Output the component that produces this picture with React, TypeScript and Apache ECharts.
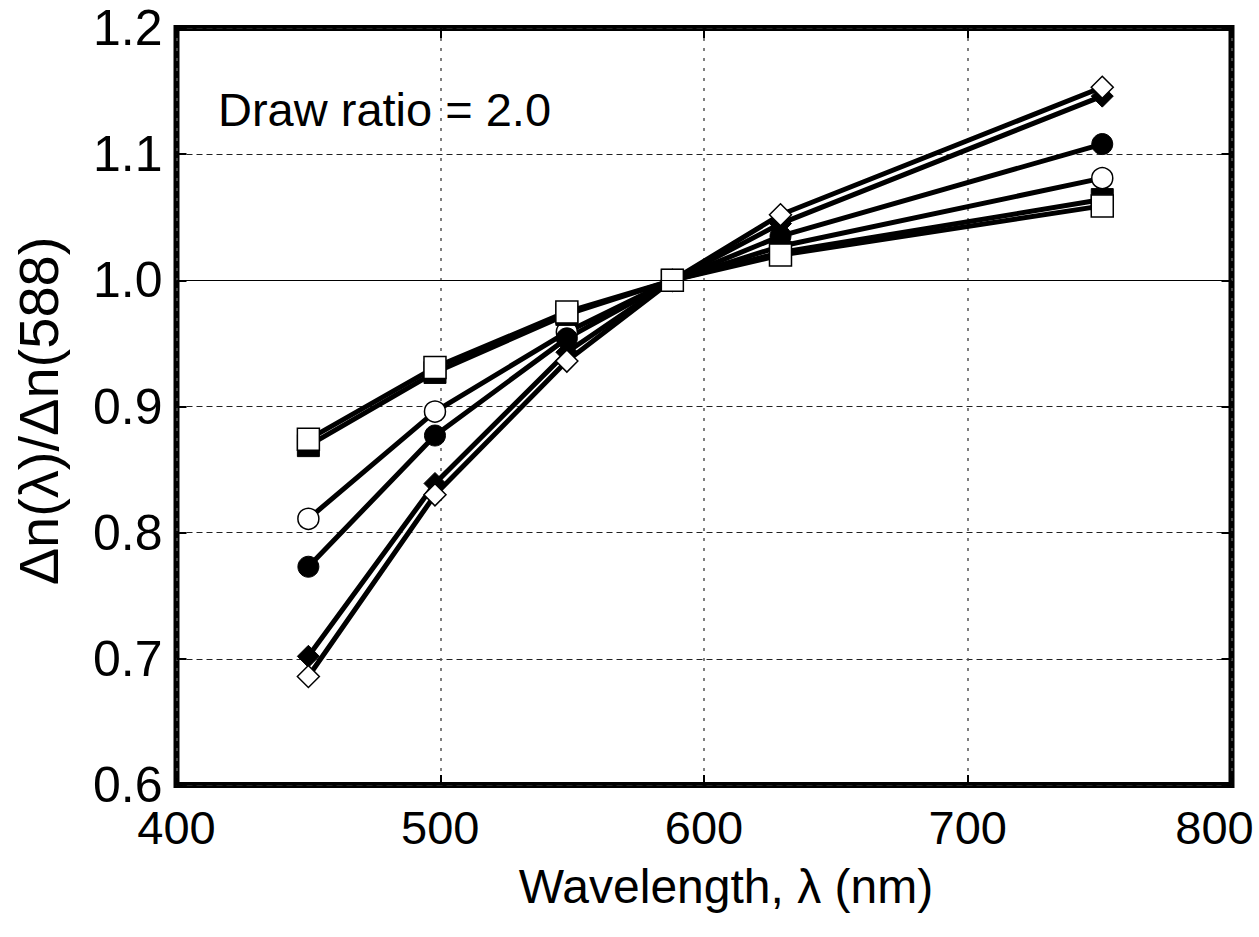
import React, { useEffect, useRef } from "react";
import * as echarts from "echarts";

const wavelengths = [450, 498, 548, 588, 629, 751];
const filledDiamond = [0.702, 0.839, 0.943, 1.0, 1.045, 1.146];
const openDiamond = [0.686, 0.83, 0.936, 1.0, 1.052, 1.153];
const filledCircle = [0.773, 0.877, 0.954, 1.0, 1.035, 1.108];
const openCircle = [0.811, 0.896, 0.959, 1.0, 1.027, 1.081];
const filledSquare = [0.869, 0.927, 0.973, 1.0, 1.022, 1.064];
const openSquare = [0.874, 0.931, 0.975, 1.0, 1.02, 1.059];

const xTitle = "Wavelength, λ (nm)";
const yTitle = "Δn(λ)/Δn(588)";
const note = "Draw ratio = 2.0";

const FONT = "'Liberation Sans', Arial, Helvetica, sans-serif";

function mkSeries(name: string, vals: number[], symbol: string, size: number, filled: boolean, extra: any = {}) {
  return {
    name,
    type: "line",
    data: wavelengths.map((w, i) => [w, vals[i]]),
    symbol,
    symbolSize: size,
    showAllSymbol: true,
    lineStyle: { color: "#000", width: 5 },
    itemStyle: filled
      ? { color: "#000", borderColor: "#000", borderWidth: 1 }
      : { color: "#fff", borderColor: "#000", borderWidth: 1.5 },
    emphasis: { disabled: true },
    ...extra,
  };
}

export default function App() {
  const ref = useRef<HTMLDivElement>(null);
  useEffect(() => {
    if (!ref.current) return;
    const chart = echarts.init(ref.current, null, { renderer: "svg" });
    const common = { min: 400, max: 800, interval: 100 };
    const ycommon = { min: 0.6, max: 1.2, interval: 0.1 };
    chart.setOption({
      animation: false,
      backgroundColor: "#fff",
      textStyle: { fontFamily: FONT },
      grid: {
        left: 176.5,
        top: 28,
        width: 1055,
        height: 757,
        outerBoundsMode: "none",
        containLabel: false,
        show: true,
        borderColor: "#000",
        borderWidth: 6,
        backgroundColor: "transparent",
      },
      xAxis: [
        {
          type: "value",
          ...common,
          position: "bottom",
          axisLine: { show: false },
          axisTick: { show: true, inside: true, length: 10, lineStyle: { color: "#000", width: 2 } },
          axisLabel: {
            color: "#000",
            fontSize: 47,
            fontFamily: FONT,
            margin: 19,
            formatter: (v: number) => (v === 800 ? `{r|${v}}` : `${v}`),
            rich: { r: { fontSize: 47, fontFamily: FONT, color: "#000", padding: [0, 34, 0, 0] } },
          },
          splitLine: { show: true, lineStyle: { color: "#555", width: 1.5, type: [3, 7] } },
        },
        {
          type: "value",
          ...common,
          position: "top",
          axisLine: { show: false },
          axisTick: { show: true, inside: true, length: 10, lineStyle: { color: "#000", width: 2 } },
          axisLabel: { show: false },
          splitLine: { show: false },
        },
      ],
      yAxis: [
        {
          type: "value",
          ...ycommon,
          position: "left",
          axisLine: { show: false },
          axisTick: { show: true, inside: true, length: 10, lineStyle: { color: "#000", width: 2 } },
          axisLabel: {
            color: "#000",
            fontSize: 50,
            fontFamily: FONT,
            margin: 14,
            formatter: (v: number) => v.toFixed(1),
          },
          splitLine: { show: true, lineStyle: { color: "#222", width: 1, type: [6, 4] } },
        },
        {
          type: "value",
          ...ycommon,
          position: "right",
          axisLine: { show: false },
          axisTick: { show: true, inside: true, length: 10, lineStyle: { color: "#000", width: 2 } },
          axisLabel: { show: false },
          splitLine: { show: false },
        },
      ],
      series: [
        mkSeries("filledDiamond", filledDiamond, "diamond", 22, true, {
          markLine: {
            silent: true,
            symbol: "none",
            label: { show: false },
            lineStyle: { color: "#000", width: 1, type: "solid" },
            data: [{ yAxis: 1.0 }],
          },
        }),
        mkSeries("openDiamond", openDiamond, "diamond", 22, false),
        mkSeries("openCircle", openCircle, "circle", 21, false),
        mkSeries("filledCircle", filledCircle, "circle", 21, true),
        mkSeries("filledSquare", filledSquare, "rect", 22, true),
        mkSeries("openSquare", openSquare, "rect", 22, false),
      ],
      graphic: [
        {
          type: "text",
          left: 218,
          top: 86,
          style: {
            text: note,
            font: `47px ${FONT}`,
            fill: "#000",
            textVerticalAlign: "middle",
          },
        },
        {
          type: "text",
          x: 726,
          y: 886,
          style: {
            text: xTitle,
            font: `48px ${FONT}`,
            fill: "#000",
            align: "center",
            verticalAlign: "middle",
          },
        },
        {
          type: "text",
          x: 38,
          y: 411,
          rotation: Math.PI / 2,
          style: {
            text: yTitle,
            font: `56px ${FONT}`,
            fill: "#000",
            align: "center",
            verticalAlign: "middle",
          },
        },
      ],
    });
    return () => chart.dispose();
  }, []);
  return (
    <div
      ref={ref}
      style={{ position: "fixed", left: 0, top: 0, width: 1259, height: 937, background: "#fff" }}
    />
  );
}
